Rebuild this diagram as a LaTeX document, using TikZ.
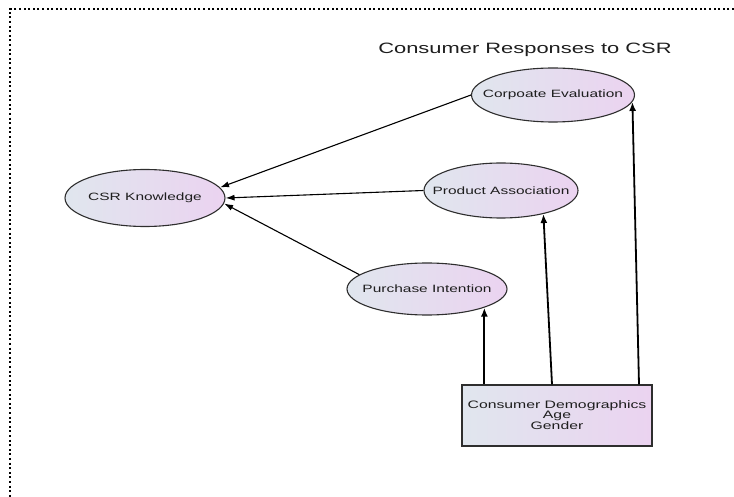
\documentclass[tikz,border=0pt]{standalone}
\usepackage{fontspec}
\setmainfont{Liberation Sans}
\newfontfamily\widefont[FakeStretch=1.46]{Liberation Sans}
\usetikzlibrary{shapes.geometric,arrows.meta}

\definecolor{fillleft}{HTML}{E0E6EE}
\definecolor{fillright}{HTML}{EBD3F0}
\definecolor{edgegray}{HTML}{2E2E2E}
\definecolor{inkgray}{HTML}{1E1E1E}

% label that does not widen its ellipse
\newcommand{\nowide}[1]{\makebox[0pt]{#1}}

\begin{document}
\begin{tikzpicture}[x=1pt,y=-1pt]
    \tikzset{factor/.style = {ellipse, draw=edgegray, line width=1.1pt, inner sep=0pt,
        left color=fillleft, right color=fillright, text=inkgray,
        font=\widefont\fontsize{10.6}{12}\selectfont}}
    \tikzset{demo/.style = {rectangle, draw=edgegray, line width=1.3pt, inner sep=0pt,
        left color=fillleft, right color=fillright, text=inkgray, align=center,
        minimum width=190pt, minimum height=61pt,
        font=\widefont\fontsize{10.8}{10}\selectfont}}
    \tikzset{link/.style = {-{Latex[length=9pt,width=6pt]}, line width=1.1pt, draw=black}}
    \tikzset{rise/.style = {-{Latex[length=9pt,width=7pt]}, line width=1.8pt, draw=black}}

    \useasboundingbox (0,0) rectangle (734,497);

    % page frame, only top and left show
    \draw[line width=2pt, dash pattern=on 2pt off 2.6pt] (734,9) -- (10,9) -- (10,497);

    \node[text=inkgray, font=\widefont\fontsize{15}{18}\selectfont] (title) at (525,50) {Consumer Responses to CSR};

    \node[factor, minimum width=160pt, minimum height=57pt] (csr) at (145,198) {\nowide{CSR Knowledge}};
    \node[factor, minimum width=163pt, minimum height=54pt] (corp) at (553,95) {\nowide{Corpoate Evaluation}};
    \node[factor, minimum width=154pt, minimum height=55pt] (prod) at (501,190.5) {\nowide{Product Association}};
    \node[factor, minimum width=160pt, minimum height=52pt] (purch) at (427,289) {\nowide{Purchase Intention}};

    \node[demo] (demo) at (557,415.5) {Consumer Demographics\\Age\\Gender};

    % responses into knowledge
    \draw[link] (corp.west) -- (csr.8);
    \draw[link] (prod.west) -- (csr.east);
    \draw[link] (purch.168) -- (csr.-4);

    % demographics up to each response
    \draw[rise] (demo.north -| purch.-18) -- (purch.-18);
    \draw[rise] ([xshift=-5pt]demo.north) -- (prod.-29);
    \draw[rise] ([xshift=82pt]demo.north) -- (corp.-5);

\end{tikzpicture}
\end{document}
